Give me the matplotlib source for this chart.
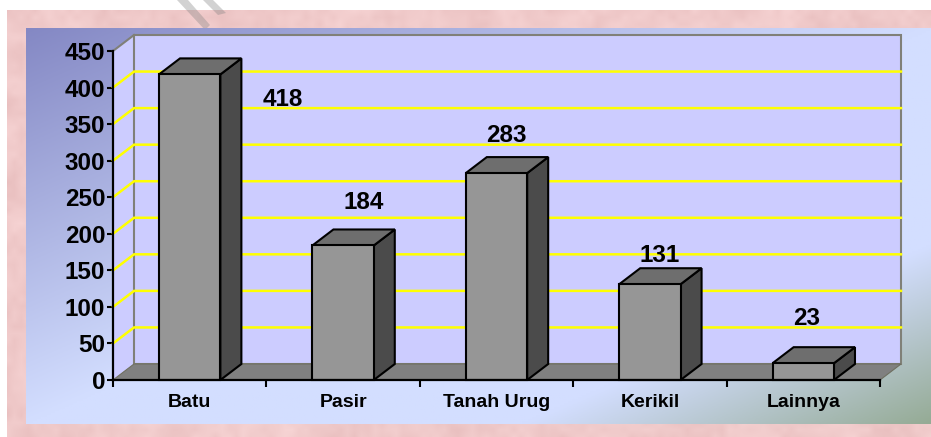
import numpy as np
import matplotlib
matplotlib.use('Agg')
import matplotlib.pyplot as plt
from matplotlib.patches import Polygon

# Data
categories = ['Batu', 'Pasir', 'Tanah Urug', 'Kerikil', 'Lainnya']
values = [418, 184, 283, 131, 23]
y_ticks = [0, 50, 100, 150, 200, 250, 300, 350, 400, 450]
# where each value label sits relative to the top of its bar, in pixels
label_offsets = [(93, -25), (21, 43), (10, 38), (10, 29), (3, 45)]

W, H = 931, 437
plt.rcParams['font.family'] = ['Liberation Sans', 'DejaVu Sans']

fig = plt.figure(figsize=(W / 100, H / 100), dpi=100, facecolor='white')


def px_axes(x0, y0, x1, y1):
    # axes from pixel box, y measured from the top of the image
    return fig.add_axes([x0 / W, 1 - y1 / H, (x1 - x0) / W, (y1 - y0) / H])


def blotches(h, w, cell, rng):
    # soft mottling for the paper background
    small = rng.random((h // cell + 2, w // cell + 2))
    rows = np.linspace(0, small.shape[0] - 1.001, h)
    cols = np.linspace(0, small.shape[1] - 1.001, w)
    r0, c0 = rows.astype(int), cols.astype(int)
    fr, fc = (rows - r0)[:, None], (cols - c0)[None, :]
    return (small[r0][:, c0] * (1 - fr) * (1 - fc) + small[r0 + 1][:, c0] * fr * (1 - fc)
            + small[r0][:, c0 + 1] * (1 - fr) * fc + small[r0 + 1][:, c0 + 1] * fr * fc)


# pink paper
paper_ax = px_axes(7, 10, 931, 437)
rng = np.random.default_rng(3)
noise = 0.6 * blotches(427, 924, 24, rng) + 0.4 * blotches(427, 924, 7, rng)
base = np.array([0.94, 0.79, 0.79])
paper = base + (noise[..., None] - 0.5) * np.array([0.06, 0.09, 0.09])
paper_ax.imshow(np.clip(paper, 0, 1), aspect='auto')
paper_ax.axis('off')

# faint watermark strokes at the top edge
mark_ax = fig.add_axes([0, 0, 1, 1], zorder=1)
mark_ax.set_xlim(0, W)
mark_ax.set_ylim(H, 0)
mark_ax.axis('off')
mark_ax.add_patch(Polygon([(177, 0), (188, 0), (210, 25), (205, 30)],
                          facecolor='#808080', alpha=0.35, edgecolor='none'))
mark_ax.add_patch(Polygon([(203, 0), (213, 0), (226, 13), (218, 15)],
                          facecolor='#808080', alpha=0.35, edgecolor='none'))

# blue panel gradient
panel_ax = px_axes(26, 28, 931, 424)
panel_ax.set_zorder(2)
gx, gy = np.meshgrid(np.linspace(0, 1, 450), np.linspace(0, 1, 200))
t = gx + gy
c0, c1, c2 = np.array([0x84, 0x88, 0xc4]), np.array([0xd3, 0xde, 0xff]), np.array([0x95, 0xab, 0x95])
panel = np.empty(t.shape + (3,))
for i in range(3):
    panel[..., i] = np.interp(t, [0, 1, 1.55, 2], [c0[i], c1[i], c1[i], c2[i]]) / 255
panel_ax.imshow(panel, aspect='auto')
panel_ax.axis('off')

# chart axes = the front plane of the 3D box
ax = px_axes(113, 51, 880, 380)
ax.set_zorder(3)
ax.patch.set_visible(False)
ax.set_xlim(-0.5, 4.5)
ax.set_ylim(0, 450)

dx = 21 / (767 / 5)    # depth in category units
dy = 16 / (329 / 450)  # depth in value units
bar_w = 0.4
left, right = -0.5, 4.5

wall = '#ccccff'
ax.add_patch(Polygon([(left, 0), (left, 450), (left + dx, 450 + dy), (left + dx, dy)],
                     facecolor=wall, edgecolor='none', clip_on=False, zorder=1))
ax.add_patch(Polygon([(left + dx, dy), (left + dx, 450 + dy), (right + dx, 450 + dy), (right + dx, dy)],
                     facecolor=wall, edgecolor='#808078', lw=1.5, clip_on=False, zorder=1))
for v in y_ticks[1:-1]:
    ax.plot([left, left + dx, right + dx], [v, v + dy, v + dy], color='#ffff00', lw=1.8,
            clip_on=False, zorder=2, solid_joinstyle='miter')
ax.plot([left, left + dx], [450, 450 + dy], color='#808078', lw=1.5, clip_on=False, zorder=2)
ax.add_patch(Polygon([(left, 0), (right, 0), (right + dx, dy), (left + dx, dy)],
                     facecolor='#808080', edgecolor='#6f6f60', lw=0.8, clip_on=False, zorder=3))

# the bars
for i, v in enumerate(values):
    x0, x1 = i - bar_w / 2, i + bar_w / 2
    ax.add_patch(Polygon([(x1, 0), (x1, v), (x1 + dx, v + dy), (x1 + dx, dy)],
                         facecolor='#4b4b4b', edgecolor='black', lw=1.5, clip_on=False, zorder=4))
    ax.add_patch(Polygon([(x0, v), (x1, v), (x1 + dx, v + dy), (x0 + dx, v + dy)],
                         facecolor='#6e6e6e', edgecolor='black', lw=1.5, clip_on=False, zorder=4))
    ax.bar(i, v, width=bar_w, color='#969696', edgecolor='black', lw=1.5, zorder=5, clip_on=False)
    ax.annotate(str(v), (i, v), xytext=label_offsets[i], textcoords='offset pixels',
                ha='center', va='center', fontsize=17.5, fontweight='bold', color='black',
                zorder=6, annotation_clip=False)

for side in ['top', 'right']:
    ax.spines[side].set_visible(False)
for side in ['left', 'bottom']:
    ax.spines[side].set_linewidth(1.6)
    ax.spines[side].set_zorder(7)

ax.set_yticks(y_ticks)
ax.set_yticklabels([str(v) for v in y_ticks], fontsize=17.5, fontweight='bold')
ax.tick_params(axis='y', length=4.5, width=1.5, pad=1)
ax.set_xticks(np.arange(-0.5, 5, 1))
ax.set_xticks(np.arange(5), minor=True)
ax.set_xticklabels([])
ax.set_xticklabels(categories, minor=True, fontsize=14, fontweight='bold')
ax.tick_params(axis='x', which='major', length=5, width=1.5)
ax.tick_params(axis='x', which='minor', length=0, pad=10)

fig.savefig('out.png', dpi=100)
